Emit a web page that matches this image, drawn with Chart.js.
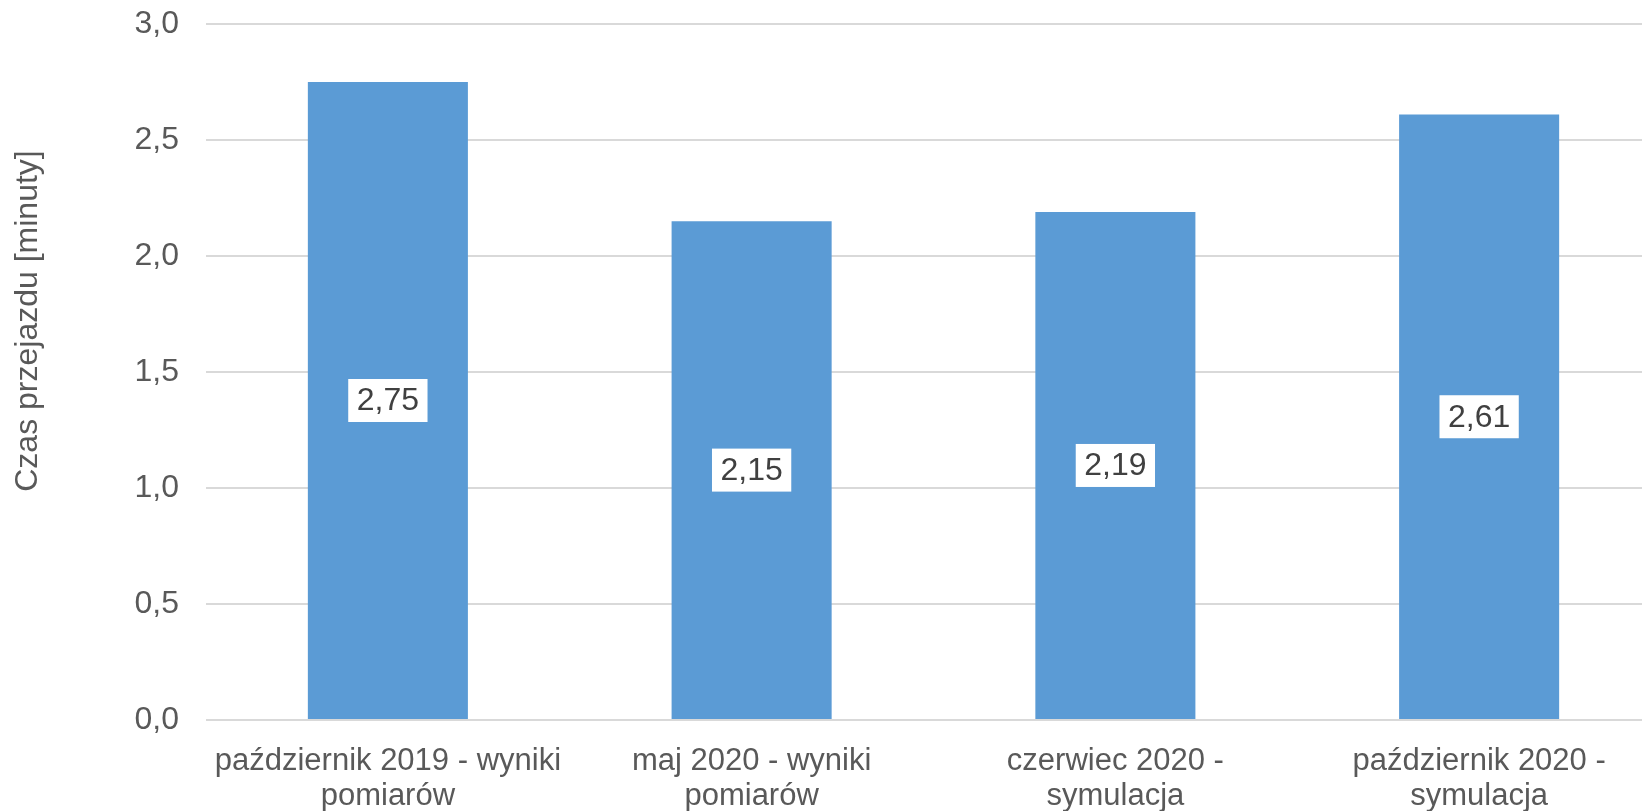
<!DOCTYPE html>
<html>
<head>
<meta charset="utf-8">
<script src="https://cdn.jsdelivr.net/npm/chart.js@4/dist/chart.umd.min.js"></script>
<style>
  html, body { margin: 0; padding: 0; background: #ffffff; overflow: hidden; }
  #wrap { width: 1662px; height: 811px; }
</style>
</head>
<body>
<div id="wrap"><canvas id="c" width="1662" height="811"></canvas></div>
<script>
const categories = [
  ['październik 2019 - wyniki', 'pomiarów'],
  ['maj 2020 - wyniki', 'pomiarów'],
  ['czerwiec 2020 -', 'symulacja'],
  ['październik 2020 -', 'symulacja']
];
const travelTimes = [2.75, 2.15, 2.19, 2.61];
const yTicks = [0, 0.5, 1.0, 1.5, 2.0, 2.5, 3.0];
const yTitle = 'Czas przejazdu [minuty]';

const FONT = "'Liberation Sans', Arial, sans-serif";
const fmt = v => v.toFixed(2).replace('.', ',');

const barLabels = {
  id: 'barLabels',
  afterDatasetsDraw(chart) {
    const ctx = chart.ctx;
    const meta = chart.getDatasetMeta(0);
    ctx.save();
    ctx.font = '32px ' + FONT;
    ctx.textAlign = 'center';
    ctx.textBaseline = 'middle';
    meta.data.forEach((bar, i) => {
      const txt = fmt(travelTimes[i]);
      const cy = (bar.y + bar.base) / 2;
      const w = ctx.measureText(txt).width + 17;
      const h = 43;
      ctx.fillStyle = '#ffffff';
      ctx.fillRect(bar.x - w / 2, cy - h / 2, w, h);
      ctx.fillStyle = '#404040';
      ctx.fillText(txt, bar.x, cy + 1);
    });
    ctx.restore();
  }
};

const axisTitle = {
  id: 'axisTitle',
  afterDraw(chart) {
    const ctx = chart.ctx;
    ctx.save();
    ctx.translate(28, 321);
    ctx.rotate(-Math.PI / 2);
    ctx.font = '32px ' + FONT;
    ctx.fillStyle = '#595959';
    ctx.textAlign = 'center';
    ctx.textBaseline = 'middle';
    ctx.fillText(yTitle, 0, 0);
    ctx.restore();
  }
};

const chart = new Chart(document.getElementById('c'), {
  type: 'bar',
  data: {
    labels: categories,
    datasets: [{
      data: travelTimes,
      backgroundColor: '#5B9BD5',
      borderWidth: 0,
      barPercentage: 0.44,
      categoryPercentage: 1.0
    }]
  },
  options: {
    responsive: false,
    animation: false,
    devicePixelRatio: 1,
    layout: { padding: { top: 24, right: 1, left: 0, bottom: 0 } },
    plugins: { legend: { display: false }, tooltip: { enabled: false } },
    scales: {
      x: {
        grid: { display: false },
        border: { display: false },
        ticks: {
          color: '#595959',
          font: { family: FONT, size: 31, lineHeight: 1.12 },
          maxRotation: 0,
          autoSkip: false,
          padding: 16
        },
        afterFit(scale) {
          scale.height = 91;
          scale.paddingLeft = 0; scale.paddingRight = 0;
        }
      },
      y: {
        min: 0,
        max: 3,
        afterBuildTicks(scale) { scale.ticks = yTicks.map(v => ({ value: v })); },
        grid: { color: '#D9D9D9', lineWidth: 2, drawTicks: false },
        border: { display: false },
        ticks: {
          color: '#595959',
          font: { family: FONT, size: 32 },
          padding: 27,
          callback: v => v.toFixed(1).replace('.', ',')
        },
        afterFit(scale) {
          scale.width = 206;
          scale.paddingTop = 0; scale.paddingBottom = 0;
        }
      }
    }
  },
  plugins: [barLabels, axisTitle]
});
</script>
</body>
</html>
